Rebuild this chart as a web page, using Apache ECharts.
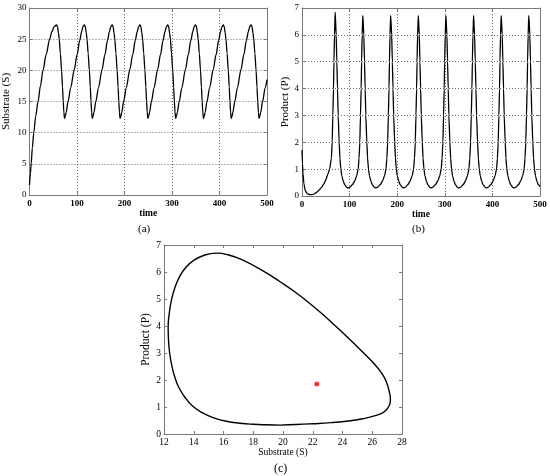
<!DOCTYPE html>
<html>
<head>
<meta charset="utf-8">
<script src="https://cdn.jsdelivr.net/npm/echarts@6/dist/echarts.min.js"></script>
<style>
html,body{margin:0;padding:0;background:#fff;}
#chart{width:550px;height:476px;}
</style>
</head>
<body>
<div id="chart"></div>
<script>
// ---- Panel (a): Substrate S vs time ----
const timeS = [0,2,3.5,6,9,13,18,23,28.5,35,42.5,47,52,
57,59,61,62.6,65,67.5,69.5,71,72.3,73.7,75.5,77.2,81.2,86.7,94.2,100.2,105.7,109.7,112.7,
115.5,117.5,119.5,121.1,123.5,126,128,129.5,130.8,132.2,134,135.7,139.7,145.2,152.7,158.7,164.2,168.2,171.2,
174,176,178,179.6,182,184.5,186.5,188,189.3,190.7,192.5,194.2,198.2,203.7,211.2,217.2,222.7,226.7,229.7,
232.5,234.5,236.5,238.1,240.5,243,245,246.5,247.8,249.2,251,252.7,256.7,262.2,269.7,275.7,281.2,285.2,288.2,
291,293,295,296.6,299,301.5,303.5,305,306.3,307.7,309.5,311.2,315.2,320.7,328.2,334.2,339.7,343.7,346.7,
349.5,351.5,353.5,355.1,357.5,360,362,363.5,364.8,366.2,368,369.7,373.7,379.2,386.7,392.7,398.2,402.2,405.2,
408,410,412,413.6,416,418.5,420.5,422,423.3,424.7,426.5,428.2,432.2,437.7,445.2,451.2,456.7,460.7,463.7,
466.5,468.5,470.5,472.1,474.5,477,479,480.5,481.8,483.2,485,486.7,490.7,496.2,500];
const substrate = [1.6,3.5,5,7.6,10,12.6,15,17.5,20,22.5,25,26.2,27,
27.3,27.0,26.0,25.0,22.7,20.0,17.3,15.0,13.3,12.3,12.6,13.3,15.0,17.2,20.1,22.5,24.8,26.2,27.0,
27.3,27.0,26.0,25.0,22.7,20.0,17.3,15.0,13.3,12.3,12.6,13.3,15.0,17.2,20.1,22.5,24.8,26.2,27.0,
27.3,27.0,26.0,25.0,22.7,20.0,17.3,15.0,13.3,12.3,12.6,13.3,15.0,17.2,20.1,22.5,24.8,26.2,27.0,
27.3,27.0,26.0,25.0,22.7,20.0,17.3,15.0,13.3,12.3,12.6,13.3,15.0,17.2,20.1,22.5,24.8,26.2,27.0,
27.3,27.0,26.0,25.0,22.7,20.0,17.3,15.0,13.3,12.3,12.6,13.3,15.0,17.2,20.1,22.5,24.8,26.2,27.0,
27.3,27.0,26.0,25.0,22.7,20.0,17.3,15.0,13.3,12.3,12.6,13.3,15.0,17.2,20.1,22.5,24.8,26.2,27.0,
27.3,27.0,26.0,25.0,22.7,20.0,17.3,15.0,13.3,12.3,12.6,13.3,15.0,17.2,20.1,22.5,24.8,26.2,27.0,
27.3,27.0,26.0,25.0,22.7,20.0,17.3,15.0,13.3,12.3,12.6,13.3,15.0,17.2,18.5];

// ---- Panel (b): Product P vs time ----
const timeP = [0,1,2,4,7,11,16,21,26,31,36,41,46,50,54,58,
61.7,63.4,64.8,66.2,67.1,68.3,69.7,71.8,73.2,74.6,76,78.1,79.7,81.6,83.7,86.7,89.7,93.7,96.2,
100.8,105.8,110.8,114.8,118,119.8,121.5,122.9,124.3,125.2,126.4,127.8,129.9,131.3,132.7,134.1,136.2,137.8,139.7,141.8,144.8,147.8,151.8,154.3,
159.3,164.3,169.3,173.3,176.5,178.3,180,181.4,182.8,183.7,184.9,186.3,188.4,189.8,191.2,192.6,194.7,196.3,198.2,200.3,203.3,206.3,210.3,212.8,
217.3,222.3,227.3,231.3,234.5,236.3,238,239.4,240.8,241.7,242.9,244.3,246.4,247.8,249.2,250.6,252.7,254.3,256.2,258.3,261.3,264.3,268.3,270.8,
275.3,280.3,285.3,289.3,292.5,294.3,296,297.4,298.8,299.7,300.9,302.3,304.4,305.8,307.2,308.6,310.7,312.3,314.2,316.3,319.3,322.3,326.3,328.8,
333.5,338.5,343.5,347.5,350.7,352.5,354.2,355.6,357,357.9,359.1,360.5,362.6,364,365.4,366.8,368.9,370.5,372.4,374.5,377.5,380.5,384.5,387,
391.5,396.5,401.5,405.5,408.7,410.5,412.2,413.6,415,415.9,417.1,418.5,420.6,422,423.4,424.8,426.9,428.5,430.4,432.5,435.5,438.5,442.5,445,
449.5,454.5,459.5,463.5,466.7,468.5,470.2,471.6,473,473.9,475.1,476.5,478.6,480,481.4,482.8,484.9,486.5,488.4,490.5,493.5,496.5,500];
const product = [1.7,1.2,0.85,0.45,0.2,0.09,0.05,0.05,0.08,0.14,0.22,0.32,0.45,0.6,0.8,1.0,
1.4,2.0,3.0,4.0,5.0,6.0,6.85,6.0,5.0,4.0,3.0,2.0,1.4,1.0,0.75,0.55,0.42,0.33,0.3,
0.33,0.42,0.56,0.75,1.0,1.4,2.0,3.0,4.0,5.0,6.0,6.72,6.0,5.0,4.0,3.0,2.0,1.4,1.0,0.75,0.55,0.42,0.33,0.3,
0.33,0.42,0.56,0.75,1.0,1.4,2.0,3.0,4.0,5.0,6.0,6.72,6.0,5.0,4.0,3.0,2.0,1.4,1.0,0.75,0.55,0.42,0.33,0.3,
0.33,0.42,0.56,0.75,1.0,1.4,2.0,3.0,4.0,5.0,6.0,6.72,6.0,5.0,4.0,3.0,2.0,1.4,1.0,0.75,0.55,0.42,0.33,0.3,
0.33,0.42,0.56,0.75,1.0,1.4,2.0,3.0,4.0,5.0,6.0,6.72,6.0,5.0,4.0,3.0,2.0,1.4,1.0,0.75,0.55,0.42,0.33,0.3,
0.33,0.42,0.56,0.75,1.0,1.4,2.0,3.0,4.0,5.0,6.0,6.72,6.0,5.0,4.0,3.0,2.0,1.4,1.0,0.75,0.55,0.42,0.33,0.3,
0.33,0.42,0.56,0.75,1.0,1.4,2.0,3.0,4.0,5.0,6.0,6.72,6.0,5.0,4.0,3.0,2.0,1.4,1.0,0.75,0.55,0.42,0.33,0.3,
0.33,0.42,0.56,0.75,1.0,1.4,2.0,3.0,4.0,5.0,6.0,6.72,6.0,5.0,4.0,3.0,2.0,1.4,1.0,0.75,0.55,0.42,0.35];

// ---- Panel (c): limit cycle P vs S ----
const cycleS = [19.8,20.9,22.0,23.2,24.4,25.4,26.2,26.75,27.05,27.2,27.22,27.15,26.98,26.7,26.1,25.2,24.3,23.2,22.05,20.9,19.8,18.6,17.3,16.3,15.5,14.7,14.0,13.45,13.05,12.72,12.5,12.35,12.28,12.3,12.38,12.52,12.72,13.0,13.38,13.9,14.6,15.35,16.2,17.1,18.0,18.9,19.8];
const cycleP = [0.33,0.35,0.38,0.42,0.48,0.57,0.68,0.8,0.97,1.15,1.3,1.55,1.88,2.2,2.62,3.12,3.6,4.17,4.72,5.22,5.64,6.06,6.44,6.64,6.7,6.62,6.43,6.16,5.83,5.4,4.96,4.45,3.97,3.5,3.0,2.55,2.12,1.72,1.38,1.05,0.78,0.6,0.47,0.4,0.36,0.34,0.33];
const equilibrium = [22.27, 1.85];

// tick settings
const timeTicks = {min: 0, max: 500, interval: 100};
const sTicks = {min: 0, max: 30, interval: 5};
const pTicks = {min: 0, max: 7, interval: 1};
const cxTicks = {min: 12, max: 28, interval: 2};

const FONT = '"Liberation Serif", "Times New Roman", serif';
const AXIS_GRAY = '#7a7a7a';

function mainAxis(gi, pos, t, opts) {
  opts = opts || {};
  return Object.assign({
    type: 'value', gridIndex: gi, position: pos,
    min: t.min, max: t.max, interval: t.interval,
    axisLine: {show: true, onZero: false, lineStyle: {color: AXIS_GRAY, width: 1}},
    axisTick: {show: true, inside: true, length: 3, lineStyle: {color: AXIS_GRAY}},
    axisLabel: {show: true, color: '#000', fontFamily: FONT, fontSize: opts.fs || 9, margin: opts.margin || 3, fontWeight: opts.fw || 'normal'},
    splitLine: {show: !!opts.grid, lineStyle: {color: '#6a6a6a', type: [1, 2], width: 1}},
    nameTextStyle: {fontFamily: FONT, color: '#000', fontSize: opts.nfs || 9.5, fontWeight: opts.nfw || 'normal'}
  }, opts.extra || {});
}
function mirrorAxis(gi, pos, t) {
  return {
    type: 'value', gridIndex: gi, position: pos,
    min: t.min, max: t.max, interval: t.interval,
    axisLine: {show: true, onZero: false, lineStyle: {color: AXIS_GRAY, width: 1}},
    axisTick: {show: true, inside: true, length: 3, lineStyle: {color: AXIS_GRAY}},
    axisLabel: {show: false},
    splitLine: {show: false}
  };
}

const chart = echarts.init(document.getElementById('chart'), null, {renderer: 'canvas'});
const option = {
  backgroundColor: '#fff',
  animation: false,
  grid: [
    {left: 29, top: 8, width: 238, height: 187},
    {left: 302, top: 8, width: 238, height: 188},
    {left: 164, top: 245, width: 238, height: 189}
  ],
  xAxis: [
    mainAxis(0, 'bottom', timeTicks, {grid: true, fs: 9, margin: 4, fw: 'bold', nfw: 'bold', extra: {name: 'time', nameLocation: 'middle', nameGap: 13}}),
    mirrorAxis(0, 'top', timeTicks),
    mainAxis(1, 'bottom', timeTicks, {grid: true, fs: 9, margin: 4, fw: 'bold', nfw: 'bold', extra: {name: 'time', nameLocation: 'middle', nameGap: 13}}),
    mirrorAxis(1, 'top', timeTicks),
    mainAxis(2, 'bottom', cxTicks, {fs: 9.5, nfs: 9.5, margin: 3, extra: {name: 'Substrate (S)', nameLocation: 'middle', nameGap: 13}}),
    mirrorAxis(2, 'top', cxTicks)
  ],
  yAxis: [
    mainAxis(0, 'left', sTicks, {grid: true, fs: 9, margin: 3, nfs: 11, extra: {name: 'Substrate (S)', nameLocation: 'middle', nameGap: 17.5, nameRotate: 90}}),
    mirrorAxis(0, 'right', sTicks),
    mainAxis(1, 'left', pTicks, {grid: true, fs: 9, margin: 3, nfs: 11, extra: {name: 'Product (P)', nameLocation: 'middle', nameGap: 9.5, nameRotate: 90}}),
    mirrorAxis(1, 'right', pTicks),
    mainAxis(2, 'left', pTicks, {fs: 9.5, nfs: 11.5, margin: 3, extra: {name: 'Product (P)', nameLocation: 'middle', nameGap: 10, nameRotate: 90}}),
    mirrorAxis(2, 'right', pTicks)
  ],
  series: [
    {type: 'line', xAxisIndex: 0, yAxisIndex: 0, showSymbol: false, smooth: 0.3, smoothMonotone: 'x',
     lineStyle: {color: '#000', width: 1.3}, data: timeS.map((t, i) => [t, substrate[i]])},
    {type: 'line', xAxisIndex: 2, yAxisIndex: 2, showSymbol: false, smooth: 0.2, smoothMonotone: 'x',
     lineStyle: {color: '#000', width: 1.3}, data: timeP.map((t, i) => [t, product[i]])},
    {type: 'line', xAxisIndex: 4, yAxisIndex: 4, showSymbol: false, smooth: 0.5,
     lineStyle: {color: '#000', width: 1.4}, data: cycleS.map((s, i) => [s, cycleP[i]])},
    {type: 'scatter', xAxisIndex: 4, yAxisIndex: 4, symbolSize: 5,
     itemStyle: {color: '#ff0000'}, data: [equilibrium]}
  ],
  graphic: [
    {type: 'text', left: 138, top: 224, style: {text: '(a)', font: '11px ' + FONT, fill: '#000'}},
    {type: 'text', left: 412, top: 224, style: {text: '(b)', font: '11px ' + FONT, fill: '#000'}},
    {type: 'text', left: 274, top: 463, style: {text: '(c)', font: '12px ' + FONT, fill: '#000'}}
  ]
};
chart.setOption(option);
</script>
</body>
</html>
